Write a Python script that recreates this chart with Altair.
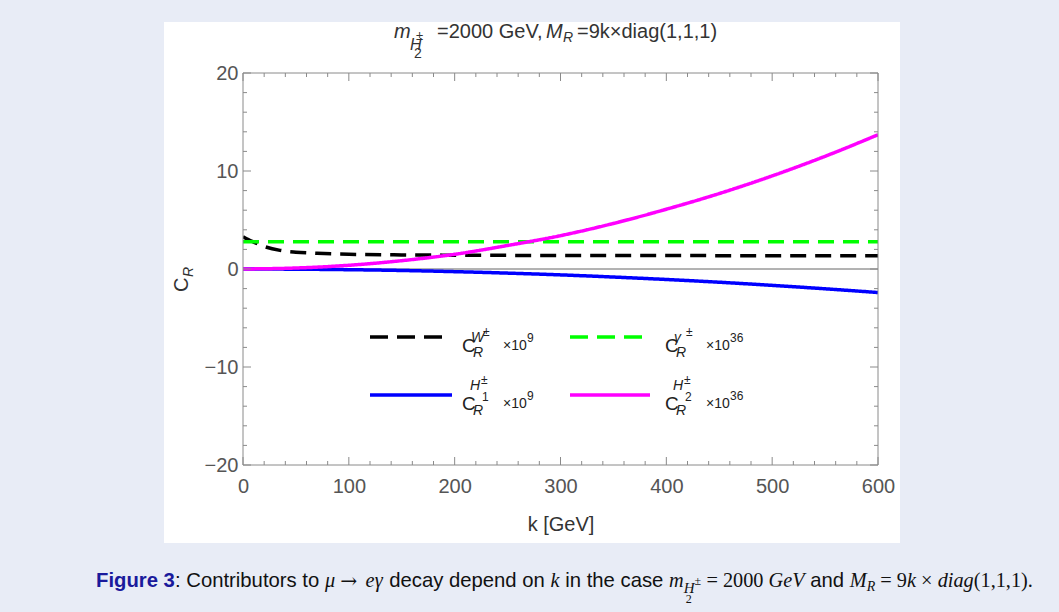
import altair as alt
import pandas as pd

# ---------------- data ----------------
k_W = [0, 5, 10, 20, 35, 50, 70, 100, 150, 200, 300, 400, 500, 600]
c_W = [3.3, 3.0, 2.75, 2.3, 1.9, 1.72, 1.6, 1.5, 1.44, 1.41, 1.38, 1.37, 1.36, 1.36]

k_gamma = [0, 100, 200, 300, 400, 500, 600]
c_gamma = [2.78, 2.78, 2.78, 2.78, 2.78, 2.78, 2.78]

k_H1 = [0, 50, 100, 150, 200, 250, 300, 350, 400, 450, 500, 550, 600]
c_H1 = [0, -0.02, -0.07, -0.15, -0.27, -0.42, -0.6, -0.82, -1.07, -1.35, -1.67, -2.02, -2.4]

k_H2 = [0, 50, 100, 150, 200, 250, 300, 350, 400, 450, 500, 550, 600]
c_H2 = [0, 0.1, 0.38, 0.85, 1.5, 2.4, 3.4, 4.65, 6.1, 7.7, 9.5, 11.5, 13.7]

series_names = ["W", "gamma", "H1", "H2"]
series_colors = ["#000000", "#00ff00", "#0000ff", "#ff00ff"]

x_major = [0, 100, 200, 300, 400, 500, 600]
x_minor = [v for v in range(0, 601, 20) if v % 100 != 0]
y_major = [-20, -10, 0, 10, 20]
y_minor = [v for v in range(-20, 21, 2) if v % 10 != 0]

# ---------------- layout constants ----------------
W, H = 635, 392
L, T0 = 243, 73            # plot-area origin on the page
SANS = "Liberation Sans, Arial, Helvetica, sans-serif"
SERIF = "Liberation Serif, Times New Roman, serif"
INK = "#333333"
AXC = "#8a8a8a"

rows = []
for name, ks, cs in [("W", k_W, c_W), ("gamma", k_gamma, c_gamma),
                     ("H1", k_H1, c_H1), ("H2", k_H2, c_H2)]:
    for k, c in zip(ks, cs):
        rows.append({"series": name, "k": k, "C": c})
df = pd.DataFrame(rows)
DUMMY = pd.DataFrame({"d": [0]})

xscale = alt.Scale(domain=[0, 600], nice=False, zero=False)
yscale = alt.Scale(domain=[-20, 20], nice=False, zero=False)


def T(s, x, y, size, color=INK, font=SANS, style="normal", weight="normal",
      align="left", angle=0):
    kw = dict(text=s, fontSize=size, font=font, fontStyle=style,
              fontWeight=weight, color=color, align=align, baseline="alphabetic")
    if angle:
        kw["angle"] = angle
    return alt.Chart(DUMMY).mark_text(**kw).encode(
        x=alt.value(x - L), y=alt.value(y - T0))


layers = []

# white panel
layers.append(alt.Chart(DUMMY).mark_rect(color="white").encode(
    x=alt.value(164 - L), x2=alt.value(900 - L),
    y=alt.value(22 - T0), y2=alt.value(543 - T0)))

# axes (labels only) via an invisible base layer
AX = dict(domain=False, ticks=False, grid=False, labelFont=SANS,
          labelFontSize=20, labelColor="#555555", labelFlush=False,
          labelOverlap=False, zindex=2, title=None)
base = alt.Chart(df).mark_point(opacity=0).encode(
    x=alt.X("k:Q", scale=xscale,
            axis=alt.Axis(values=x_major, labelPadding=11, **AX)),
    y=alt.Y("C:Q", scale=yscale,
            axis=alt.Axis(values=y_major, labelPadding=5, **AX)),
)
layers.append(base)

# zero line
layers.append(alt.Chart(pd.DataFrame({"z": [0]})).mark_rule(
    color="#666666", strokeWidth=1).encode(
    y=alt.Y("z:Q", scale=yscale), x=alt.value(0), x2=alt.value(W)))

# data lines
for name, col in zip(series_names, series_colors):
    dash = [16, 9] if name in ("W", "gamma") else [1, 0]
    layers.append(alt.Chart(df[df.series == name]).mark_line(
        color=col, strokeWidth=3.5, strokeDash=dash, interpolate="monotone",
        clip=True).encode(
        x=alt.X("k:Q", scale=xscale), y=alt.Y("C:Q", scale=yscale)))


# frame ticks (inside, all four sides)
def xticks(vals, ln):
    d = pd.DataFrame({"t": vals})
    bot = alt.Chart(d).mark_rule(color=AXC, strokeWidth=1).encode(
        x=alt.X("t:Q", scale=xscale), y=alt.value(H), y2=alt.value(H - ln))
    top = alt.Chart(d).mark_rule(color=AXC, strokeWidth=1).encode(
        x=alt.X("t:Q", scale=xscale), y=alt.value(0), y2=alt.value(ln))
    return [bot, top]


def yticks(vals, ln):
    d = pd.DataFrame({"t": vals})
    lft = alt.Chart(d).mark_rule(color=AXC, strokeWidth=1).encode(
        y=alt.Y("t:Q", scale=yscale), x=alt.value(0), x2=alt.value(ln))
    rgt = alt.Chart(d).mark_rule(color=AXC, strokeWidth=1).encode(
        y=alt.Y("t:Q", scale=yscale), x=alt.value(W), x2=alt.value(W - ln))
    return [lft, rgt]


layers += xticks(x_major, 8) + xticks(x_minor, 4)
layers += yticks(y_major, 8) + yticks(y_minor, 4)

# frame
layers.append(alt.Chart(DUMMY).mark_rect(
    fillOpacity=0, stroke=AXC, strokeWidth=1).encode(
    x=alt.value(0), x2=alt.value(W), y=alt.value(0), y2=alt.value(H)))


# ---------------- legend ----------------
def sample(x1, x2, y, col, dash):
    return alt.Chart(DUMMY).mark_rule(color=col, strokeWidth=3.5,
                                      strokeDash=dash).encode(
        x=alt.value(x1 - L), x2=alt.value(x2 - L), y=alt.value(y - T0))


layers.append(sample(370, 445, 337, "#000000", [18, 9]))
layers.append(sample(570, 645, 337, "#00ff00", [18, 9]))
layers.append(sample(370, 452, 395, "#0000ff", [1, 0]))
layers.append(sample(570, 650, 395, "#ff00ff", [1, 0]))

LG = "#222222"
for x0, sup, exp in [(462, "W", "9"), (665, "γ", "36")]:
    layers.append(T("C", x0, 352, 19, LG))
    layers.append(T("R", x0 + 11, 357, 14, LG, style="italic"))
    layers.append(T(sup, x0 + 9, 342, 14, LG, style="italic"))
    layers.append(T("±", x0 + 21, 336, 12, LG))
    layers.append(T("×10", x0 + 41, 350, 14, LG))
    layers.append(T(exp, x0 + 65, 342, 12, LG))
for x0, sub, exp in [(462, "1", "9"), (665, "2", "36")]:
    layers.append(T("C", x0, 410, 19, LG))
    layers.append(T("R", x0 + 11, 415, 14, LG, style="italic"))
    layers.append(T("H", x0 + 8, 390, 14, LG, style="italic"))
    layers.append(T("±", x0 + 19, 384, 12, LG))
    layers.append(T(sub, x0 + 20, 401, 12, LG))
    layers.append(T("×10", x0 + 41, 408, 14, LG))
    layers.append(T(exp, x0 + 65, 400, 12, LG))

# ---------------- title & axis titles ----------------
layers.append(T("m", 394, 38, 20, INK, style="italic"))
layers.append(T("H", 410, 50, 16, INK, style="italic"))
layers.append(T("±", 416, 40, 13, INK))
layers.append(T("2", 414, 58, 14, INK))
layers.append(T("=2000 GeV,", 437, 38, 20, INK))
layers.append(T("M", 546, 38, 20, INK, style="italic"))
layers.append(T("R", 563, 42, 14, INK, style="italic"))
layers.append(T("=9k×diag(1,1,1)", 577, 38, 20, INK))

layers.append(T("k [GeV]", 561, 531, 20, INK, align="center"))
layers.append(T("C", 188, 292, 20, INK, angle=270))
layers.append(T("R", 193, 277, 14, INK, style="italic", angle=270))

# ---------------- caption ----------------
AR = {" ": .278, ":": .278, ",": .278, ".": .278, "i": .222, "l": .222,
      "t": .278, "r": .333, "C": .722, "F": .611, "s": .5, "c": .5, "y": .5,
      "k": .5, "m": .833, "h": .556}
ARB = {" ": .278, "F": .611, "i": .278, "g": .611, "u": .611, "r": .389,
       "e": .556, "3": .556}
TM = {" ": .25, "=": .564, "→": 1.0, "×": .564, "μ": .5, "e": .444, "γ": .44,
      "m": .722, "H": .722, "G": .722, "V": .611, "M": .833, "R": .611,
      "k": .444, "d": .5, "i": .278, "a": .5, "g": .5, "(": .333, ")": .333,
      ",": .25, ".": .25, "±": .564}


def wid(s, table, dflt):
    return sum(table.get(ch, dflt) for ch in s)


S = 20.3
CY = 587
cur = [96.0]
CAP = "#111111"


def seg(s, kind, style="normal", weight="normal", size=S, dy=0,
        color=CAP, font=None):
    if font is None:
        font = SANS if kind != "serif" else SERIF
    if kind == "serif":
        tab, dflt = TM, .5
    elif weight == "bold":
        tab, dflt = ARB, .556
    else:
        tab, dflt = AR, .556
    lead = len(s) - len(s.lstrip(" "))
    body = s.strip(" ")
    x = cur[0] + lead * tab[" "] * size
    layers.append(T(body, x, CY + dy, size, color, font=font, style=style,
                    weight=weight))
    cur[0] += wid(s, tab, dflt) * size


seg("Figure 3", "sans", weight="bold", color="#1a1a9c")
seg(": Contributors to ", "sans")
seg("μ", "serif", style="italic")
seg(" → ", "serif", font="DejaVu Serif, Liberation Serif, serif", dy=1)
seg("eγ", "serif", style="italic")
seg(" decay depend on ", "sans")
seg("k", "serif", style="italic")
seg(" in the case ", "sans")
seg("m", "serif", style="italic")
xh = cur[0]
seg("H", "serif", style="italic", size=15, dy=6)
seg("±", "serif", size=12, dy=-2)
layers.append(T("2", xh + 2, CY + 16, 12, CAP, font=SERIF))
seg(" = 2000 ", "serif")
seg("GeV", "serif", style="italic")
seg(" and ", "sans")
seg("M", "serif", style="italic")
seg("R", "serif", style="italic", size=14, dy=4)
seg(" = 9", "serif")
seg("k", "serif", style="italic")
seg(" × ", "serif")
seg("diag", "serif", style="italic")
seg("(1,1,1).", "serif")

chart = alt.layer(*layers).properties(
    width=W, height=H,
    padding={"left": L, "top": T0, "right": 1059 - L - W, "bottom": 612 - T0 - H},
    autosize=alt.AutoSizeParams(type="none"),
    background="#e8ecf6",
).configure_view(stroke=AXC)

chart.save("out.html", embed_options={"renderer": "svg", "actions": False})
